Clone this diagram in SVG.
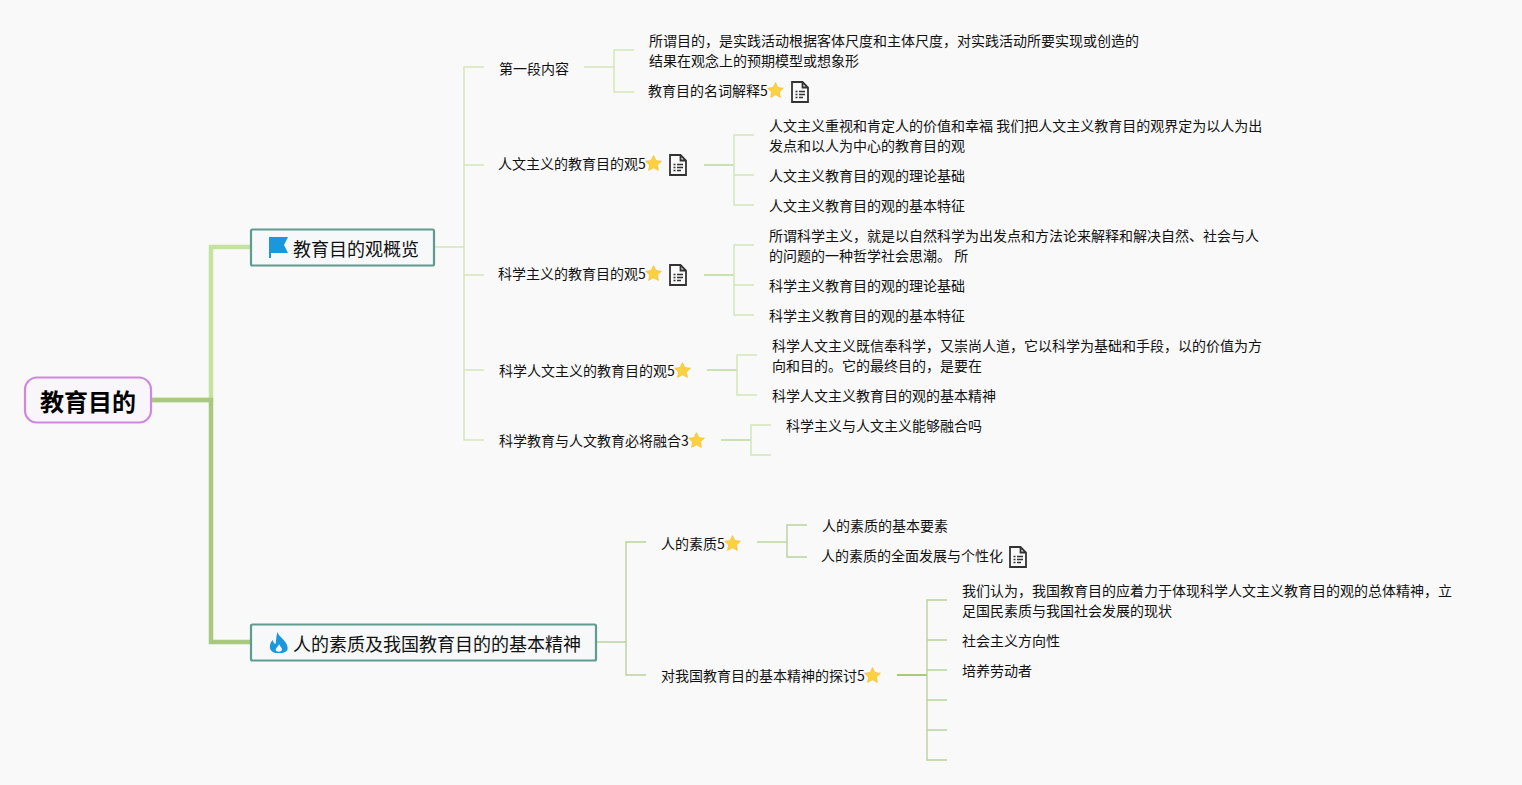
<svg xmlns="http://www.w3.org/2000/svg" width="1522" height="785" viewBox="0 0 1522 785">
<style>
text{font-family:"Noto Sans CJK SC","Liberation Sans",sans-serif;fill:#111;font-size:14px}
.c{fill:none;stroke-linejoin:miter}
.a{stroke:#d3e6b8;stroke-width:1.4}
.b{stroke:#c4dfa6;stroke-width:1.8}
.g{stroke:#b8d39a;stroke-width:1.4}
.h{stroke:#a9c980;stroke-width:2}
.box{fill:#f7f8f9;stroke:#5f9c8e;stroke-width:2.200}
.t18{font-size:18px}
</style>
<defs>
<symbol id="star" viewBox="0 0 18 18" overflow="visible"><path d="M9 .6l2.600 5.200 5.800.8-4.200 4 1 5.700L9 13.600l-5.200 2.700 1-5.700-4.200-4 5.800-.8z" fill="#fbd13f" stroke="#f4b92a" stroke-width=".6"/></symbol>
<symbol id="doc" viewBox="0 0 18 22" overflow="visible"><path d="M1 1h10.500L17 6.500V21H1z M11.500 1v5.500H17" fill="#fafafa" stroke="#333" stroke-width="1.800"/><path d="M4.500 10.500h2M8 10.500h6M4.500 13.500h2M8 13.500h6M4.500 16.500h2M8 16.500h4" stroke="#333" stroke-width="1.500" fill="none"/></symbol>
</defs>
<rect width="1522" height="785" fill="#f9f9f9"/>
<g id="connectors">
<path class="c" d="M152 400H211V247H251" stroke="#c5e3a0" stroke-width="4.500"/>
<path class="c" d="M152 400H211V642H251" stroke="#a9c980" stroke-width="4.500"/>
<path class="c a" d="M435 247H464M484 67H464V440H484M464 165H484M464 275H484M464 370H484"/>
<path class="c a" d="M584 67H614M634 50H614V92H634"/>
<path class="c b" d="M704 165H734"/><path class="c a" d="M754 135H734V205H754M734 175H754"/>
<path class="c b" d="M704 275H734"/><path class="c a" d="M754 245H734V315H754M734 285H754"/>
<path class="c b" d="M707 370H737"/><path class="c a" d="M757 355H737V395H757"/>
<path class="c b" d="M721 440H751"/><path class="c a" d="M771 425H751V455H771"/>
<path class="c g" d="M597 642H626M646 542H626V675H646"/>
<path class="c g" d="M757 542H787"/><path class="c g" d="M807 525H787V557H807"/>
<path class="c h" d="M897 675H927"/>
<path class="c g" d="M947 600H927V760H947M927 640H947M927 670H947M927 700H947M927 730H947"/>
</g>
<g id="root"><rect x="25" y="377.500" width="126" height="45" rx="12" fill="#f8f6fa" stroke="#d088de" stroke-width="2.200"/><text x="40" y="411" font-weight="700" fill="#000" style="font-size:24px;fill:#000">教育目的</text></g>
<g id="n1"><rect class="box" x="251" y="229.500" width="183" height="36" rx="1.500"/>
<path d="M269 237H288L284 245 288 253H271V258H269z" fill="#1a97dd"/><text class="t18" x="293" y="256">教育目的观概览</text></g>
<g id="n2"><rect class="box" x="251" y="624.500" width="345" height="36" rx="1.500"/>
<path d="M277.500 632C278.500 637 286.500 640 287.500 647 288.500 651 284.500 653.500 278.500 653 272.500 653.500 269 650 270 645 270.500 642.500 272 640.500 273 640 273 642 274 643.500 275.500 644 276.500 640 276 636 277.500 632zM279 644C278.500 647 275.500 647.500 275.800 650 276 652 281.500 652.500 282 649.500 282.200 647.500 280 646.500 279 644z" fill="#1a97dd" fill-rule="evenodd"/><text class="t18" x="293" y="651">人的素质及我国教育目的的基本精神</text></g>
<g id="n1-1"><text x="499" y="74">第一段内容</text></g>
<g id="n1-1-1"><text x="649" y="46">所谓目的，是实践活动根据客体尺度和主体尺度，对实践活动所要实现或创造的</text><text x="649" y="66">结果在观念上的预期模型或想象形</text></g>
<g id="n1-1-2"><text x="648" y="96">教育目的名词解释5</text><use href="#star" x="767" y="82" width="17" height="17"/><use href="#doc" x="791" y="81" width="18" height="22"/></g>
<g id="n1-2"><text x="498" y="169">人文主义的教育目的观5</text><use href="#star" x="645" y="155" width="17" height="17"/><use href="#doc" x="669" y="154" width="18" height="22"/></g>
<g id="n1-2-1"><text x="769" y="131">人文主义重视和肯定人的价值和幸福 我们把人文主义教育目的观界定为以人为出</text><text x="769" y="151">发点和以人为中心的教育目的观</text></g>
<g id="n1-2-2"><text x="769" y="181">人文主义教育目的观的理论基础</text></g>
<g id="n1-2-3"><text x="769" y="211">人文主义教育目的观的基本特征</text></g>
<g id="n1-3"><text x="498" y="279">科学主义的教育目的观5</text><use href="#star" x="645" y="265" width="17" height="17"/><use href="#doc" x="669" y="264" width="18" height="22"/></g>
<g id="n1-3-1"><text x="769" y="241">所谓科学主义，就是以自然科学为出发点和方法论来解释和解决自然、社会与人</text><text x="769" y="261">的问题的一种哲学社会思潮。 所</text></g>
<g id="n1-3-2"><text x="769" y="291">科学主义教育目的观的理论基础</text></g>
<g id="n1-3-3"><text x="769" y="321">科学主义教育目的观的基本特征</text></g>
<g id="n1-4"><text x="499" y="376">科学人文主义的教育目的观5</text><use href="#star" x="674" y="362" width="17" height="17"/></g>
<g id="n1-4-1"><text x="772" y="351">科学人文主义既信奉科学，又崇尚人道，它以科学为基础和手段，以的价值为方</text><text x="772" y="371">向和目的。它的最终目的，是要在</text></g>
<g id="n1-4-2"><text x="772" y="401">科学人文主义教育目的观的基本精神</text></g>
<g id="n1-5"><text x="499" y="446">科学教育与人文教育必将融合3</text><use href="#star" x="688" y="432" width="17" height="17"/></g>
<g id="n1-5-1"><text x="786" y="431">科学主义与人文主义能够融合吗</text></g>
<g id="n2-1"><text x="661" y="549">人的素质5</text><use href="#star" x="724" y="535" width="17" height="17"/></g>
<g id="n2-1-1"><text x="822" y="531">人的素质的基本要素</text></g>
<g id="n2-1-2"><text x="821" y="561">人的素质的全面发展与个性化</text><use href="#doc" x="1009" y="546" width="18" height="22"/></g>
<g id="n2-2"><text x="661" y="681">对我国教育目的基本精神的探讨5</text><use href="#star" x="864" y="667" width="17" height="17"/></g>
<g id="n2-2-1"><text x="962" y="596">我们认为，我国教育目的应着力于体现科学人文主义教育目的观的总体精神，立</text><text x="962" y="616">足国民素质与我国社会发展的现状</text></g>
<g id="n2-2-2"><text x="962" y="646">社会主义方向性</text></g>
<g id="n2-2-3"><text x="962" y="676">培养劳动者</text></g>
</svg>
